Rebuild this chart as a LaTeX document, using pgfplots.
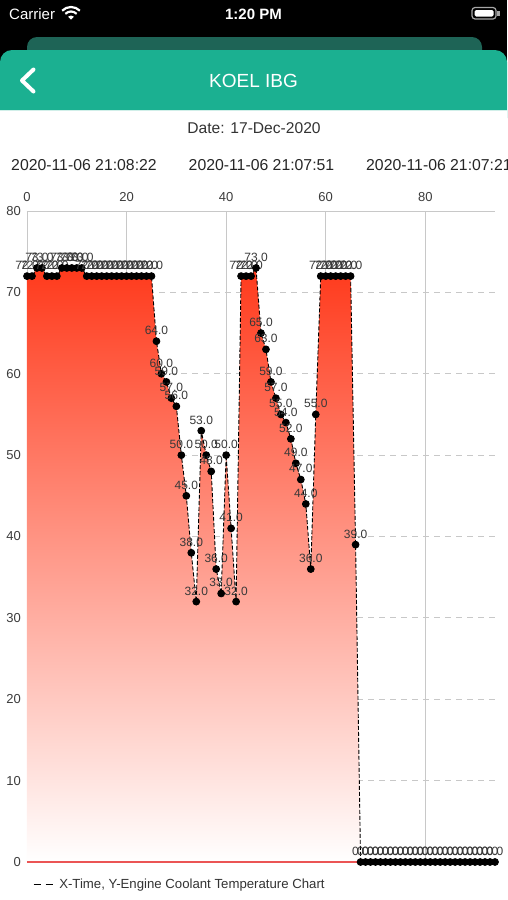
\documentclass[border=0pt]{standalone}
\usepackage{pgfplots}
\pgfplotsset{compat=1.18}
\usepackage{pgfplotstable}
\usepackage{fontspec}
\setmainfont{Liberation Sans}
\definecolor{hdrgreen}{RGB}{27,176,145}
\definecolor{hdrdark}{RGB}{30,100,86}
\definecolor{fillred}{RGB}{255,58,28}
\definecolor{gridgray}{RGB}{200,200,200}
\definecolor{txtgray}{RGB}{60,60,60}
\definecolor{zeroRed}{RGB}{235,85,85}

\pgfplotstableread{
x y
0 72
1 72
2 73
3 73
4 72
5 72
6 72
7 73
8 73
9 73
10 73
11 73
12 72
13 72
14 72
15 72
16 72
17 72
18 72
19 72
20 72
21 72
22 72
23 72
24 72
25 72
26 64
27 60
28 59
29 57
30 56
31 50
32 45
33 38
34 32
35 53
36 50
37 48
38 36
39 33
40 50
41 41
42 32
43 72
44 72
45 72
46 73
47 65
48 63
49 59
50 57
51 55
52 54
53 52
54 49
55 47
56 44
57 36
58 55
59 72
60 72
61 72
62 72
63 72
64 72
65 72
66 39
67 0
68 0
69 0
70 0
71 0
72 0
73 0
74 0
75 0
76 0
77 0
78 0
79 0
80 0
81 0
82 0
83 0
84 0
85 0
86 0
87 0
88 0
89 0
90 0
91 0
92 0
93 0
94 0
}\coolant

\begin{document}
\begin{tikzpicture}
\begin{scope}[x=1pt,y=-1pt]
\useasboundingbox (0,0) rectangle (507,900);
\fill[white] (0,0) rectangle (507,900);
\fill[black] (0,0) rectangle (507,62);
\fill[hdrdark, rounded corners=10pt] (27,37) rectangle (482,75);
\fill[hdrgreen, rounded corners=12pt] (0,50) rectangle (507,130);
\fill[white] (0,111) rectangle (507,900);
\draw[white!80!hdrgreen, line width=1pt] (0,110.5) -- (507,110.5);
% status bar
\node[anchor=west, text=white, font=\fontsize{15}{18}\selectfont, inner sep=0pt] at (9,14) {Carrier};
\fill[white] (71,19.5) -- +(225:4) arc[start angle=225, end angle=315, radius=4] -- cycle;
\draw[white, line width=2.2pt] (71,19.5) +(225:8) arc[start angle=225, end angle=315, radius=8];
\draw[white, line width=2.2pt] (71,19.5) +(225:12.5) arc[start angle=225, end angle=315, radius=12.5];
\node[text=white, font=\fontsize{15}{18}\selectfont\bfseries, inner sep=0pt] at (253.5,14) {1:20 PM};
\draw[gray!70, line width=1.2pt, rounded corners=3pt] (472,7.5) rectangle (496,19);
\fill[white, rounded corners=1.5pt] (474.5,10) rectangle (493.5,16.5);
\fill[gray!70] (497.2,11) rectangle (499.5,15.5);
% header
\draw[white, line width=4pt, line cap=round, line join=round] (33.5,69.5) -- (22,80.5) -- (33.5,91.5);
\node[text=white, font=\fontsize{19}{22}\selectfont] at (253.5,81) {KOEL IBG};
\node[text=black!80, font=\fontsize{15.6}{18}\selectfont] at (254,128) {Date: 17-Dec-2020};
\node[text=black!85, font=\fontsize{15.8}{18}\selectfont] at (84,165) {2020-11-06 21:08:22};
\node[text=black!85, font=\fontsize{15.8}{18}\selectfont] at (261.5,165) {2020-11-06 21:07:51};
\node[text=black!85, font=\fontsize{15.8}{18}\selectfont, anchor=west, inner sep=0pt] at (366,165) {2020-11-06 21:07:21};
\end{scope}
\begin{axis}[
  at={(27pt,-862pt)}, anchor=south west,
  scale only axis, width=468pt, height=651pt,
  xmin=0, xmax=94, ymin=0, ymax=80,
  xtick={0,20,40,60,80}, ytick={0,10,...,80},
  axis x line*=top, axis y line*=left,
  axis line style={gridgray, line width=0.8pt, -},
  xmajorgrids, ymajorgrids,
  x grid style={gridgray, line width=0.8pt},
  y grid style={gridgray, dash pattern=on 6pt off 5pt, line width=0.8pt},
  major tick length=0pt,
  tick label style={font=\fontsize{13}{15}\selectfont, text=txtgray},
  yticklabel style={inner sep=0pt, xshift=-6pt},
  xticklabel style={inner sep=0pt, yshift=9pt},
  /pgf/number format/assume math mode=true,
  clip=false,
  legend style={draw=none, fill=none, at={(axis description cs:0.0128,-0.035)}, anchor=west,
    inner xsep=0pt, inner ysep=0pt, font=\fontsize{13.2}{15}\selectfont, text=black!80,
    nodes={inner xsep=6pt}},
  legend cell align=left,
  legend image code/.code={\draw[black, line width=1.1pt, dash pattern=on 7pt off 5pt] (0pt,0pt) -- (19pt,0pt);},
]
\addplot[draw=none, top color=fillred, bottom color=white, forget plot] table {\coolant} \closedcycle;
\addplot[zeroRed, line width=1.3pt, forget plot] coordinates {(0,0) (94,0)};
\addplot[black, line width=0.9pt, dash pattern=on 4pt off 2pt,
  mark=*, mark size=3.4pt, mark options={solid, fill=black},
  point meta=y,
  nodes near coords={\pgfmathprintnumber[fixed,fixed zerofill,precision=1]{\pgfplotspointmeta}},
  every node near coord/.append style={font=\fontsize{12}{13}\selectfont, text=black!78, inner sep=0pt, anchor=south, yshift=6pt},
] table {\coolant};
\addlegendentry{X-Time, Y-Engine Coolant Temperature Chart}
\end{axis}
\end{tikzpicture}
\end{document}
